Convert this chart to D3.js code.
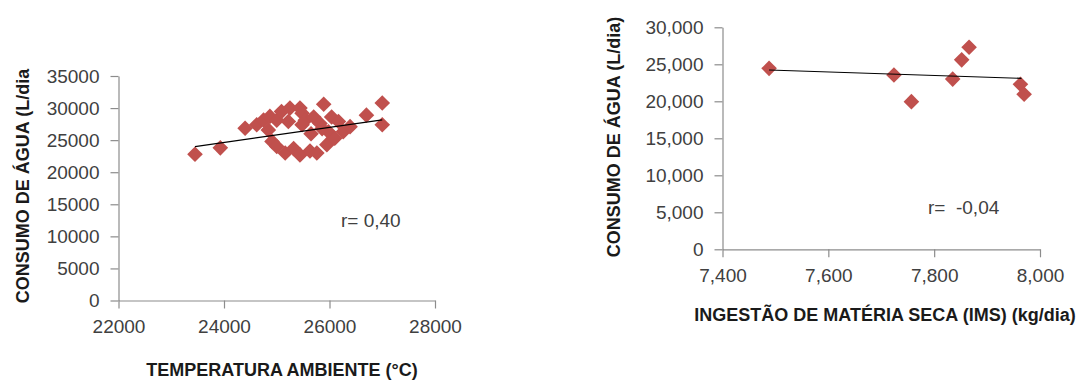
<!DOCTYPE html>
<html>
<head>
<meta charset="utf-8">
<script src="https://cdn.jsdelivr.net/npm/d3@7"></script>
<style>
  html, body { margin: 0; padding: 0; background: #fff; }
  svg { display: block; }
  text { font-family: "Liberation Sans", Arial, sans-serif; }
</style>
</head>
<body>
<svg id="chart" width="1078" height="380"></svg>
<script>
// ---- Left chart data: Temperatura ambiente vs Consumo de água ----
const tempX = [23450, 23930, 24400, 24620, 24750, 24870, 24840, 24910, 25000, 25000,
               25090, 25160, 25250, 25220, 25320, 25440, 25440, 25480, 25540, 25480,
               25630, 25700, 25760, 25820, 25890, 25950, 25980, 26040, 26100, 26170,
               26260, 26390, 26700, 27000, 27000, 25650, 25860];
const tempY = [22800, 23800, 26850, 27400, 28150, 28700, 26600, 24800, 28100, 24000,
               29450, 23000, 30000, 27900, 23700, 30000, 22700, 29200, 28100, 27400,
               23300, 28600, 23000, 27600, 30600, 24300, 26300, 28600, 25300, 27900,
               26300, 27100, 28900, 30800, 27400, 26000, 26800];
// trendline endpoints
const tempTrendX = [23450, 27000];
const tempTrendY = [24000, 28150];
const leftXTicks = [22000, 24000, 26000, 28000];
const leftYTicks = [0, 5000, 10000, 15000, 20000, 25000, 30000, 35000];
const leftXTitle = "TEMPERATURA AMBIENTE (°C)";
const leftYTitle = "CONSUMO DE ÁGUA (L/dia";
const leftR = "r= 0,40";

// ---- Right chart data: IMS vs Consumo de água ----
const imsX = [7488, 7724, 7757, 7835, 7852, 7866, 7963, 7970];
const imsY = [24450, 23550, 19950, 23000, 25600, 27300, 22300, 20950];
const imsTrendX = [7488, 7965];
const imsTrendY = [24230, 23100];
const rightXTicks = [7400, 7600, 7800, 8000];
const rightYTicks = [0, 5000, 10000, 15000, 20000, 25000, 30000];
const rightXTitle = "INGESTÃO DE MATÉRIA SECA (IMS) (kg/dia)";
const rightYTitle = "CONSUMO DE ÁGUA (L/dia)";
const rightR = "r=  -0,04";

const svg = d3.select("#chart");
const axisColor = "#8c8c8c";
const tickTextColor = "#404040";
const markerColor = "#C0504D";

function drawChart(cfg) {
  const x = d3.scaleLinear().domain(cfg.xDomain).range(cfg.xRange);
  const y = d3.scaleLinear().domain(cfg.yDomain).range(cfg.yRange);
  const g = svg.append("g");

  const xAxis = d3.axisBottom(x).tickValues(cfg.xTicks).tickSize(8).tickPadding(11)
    .tickSizeOuter(0).tickFormat(cfg.fmt);
  const yAxis = d3.axisLeft(y).tickValues(cfg.yTicks).tickSize(8).tickPadding(11)
    .tickSizeOuter(0).tickFormat(cfg.fmt);

  const gy = g.append("g").attr("transform", `translate(${cfg.xRange[0]},0)`).call(yAxis);
  const gx = g.append("g").attr("transform", `translate(0,${cfg.yRange[0]})`).call(xAxis);
  [gx, gy].forEach(a => {
    a.select(".domain").attr("stroke", axisColor).attr("stroke-width", 1.2);
    a.selectAll(".tick line").attr("stroke", axisColor).attr("stroke-width", 1.2);
    a.selectAll(".tick text").attr("fill", tickTextColor)
      .style("font-size", "19px").style("font-family", "'Liberation Sans', Arial, sans-serif");
  });

  // markers (diamonds)
  const sym = d3.symbol().type(d3.symbolSquare).size(122);
  g.append("g").selectAll("path").data(cfg.xs.map((v, i) => [v, cfg.ys[i]]))
    .join("path")
    .attr("d", sym)
    .attr("transform", d => `translate(${x(d[0])},${y(d[1])}) rotate(45)`)
    .attr("fill", markerColor);

  // trendline
  g.append("line")
    .attr("x1", x(cfg.tx[0])).attr("y1", y(cfg.ty[0]))
    .attr("x2", x(cfg.tx[1])).attr("y2", y(cfg.ty[1]))
    .attr("stroke", "#000").attr("stroke-width", 1.2);

  // r label
  g.append("text").attr("x", cfg.rPos[0]).attr("y", cfg.rPos[1])
    .attr("fill", tickTextColor).style("font-size", "19px")
    .style("white-space", "pre").attr("xml:space", "preserve")
    .text(cfg.rText);

  // titles
  g.append("text").attr("x", cfg.xTitlePos[0]).attr("y", cfg.xTitlePos[1])
    .attr("text-anchor", "middle").attr("font-weight", "bold")
    .attr("fill", "#1a1a1a").style("font-size", "18px")
    .text(cfg.xTitle);
  g.append("text")
    .attr("transform", `translate(${cfg.yTitlePos[0]},${cfg.yTitlePos[1]}) rotate(-90)`)
    .attr("text-anchor", "middle").attr("font-weight", "bold")
    .attr("fill", "#1a1a1a").style("font-size", "18px")
    .text(cfg.yTitle);
}

drawChart({
  xs: tempX, ys: tempY, tx: tempTrendX, ty: tempTrendY,
  xDomain: [22000, 28000], xRange: [118.5, 435],
  yDomain: [0, 35000], yRange: [300.5, 76],
  xTicks: leftXTicks, yTicks: leftYTicks,
  fmt: d3.format("d"),
  rText: leftR, rPos: [341, 227],
  xTitle: leftXTitle, xTitlePos: [282, 376],
  yTitle: leftYTitle, yTitlePos: [29, 186]
});

drawChart({
  xs: imsX, ys: imsY, tx: imsTrendX, ty: imsTrendY,
  xDomain: [7400, 8000], xRange: [722.5, 1040],
  yDomain: [0, 30000], yRange: [249.3, 27.3],
  xTicks: rightXTicks, yTicks: rightYTicks,
  fmt: d3.format(","),
  rText: rightR, rPos: [928, 214],
  xTitle: rightXTitle, xTitlePos: [885, 321],
  yTitle: rightYTitle, yTitlePos: [620, 137]
});
</script>
</body>
</html>
